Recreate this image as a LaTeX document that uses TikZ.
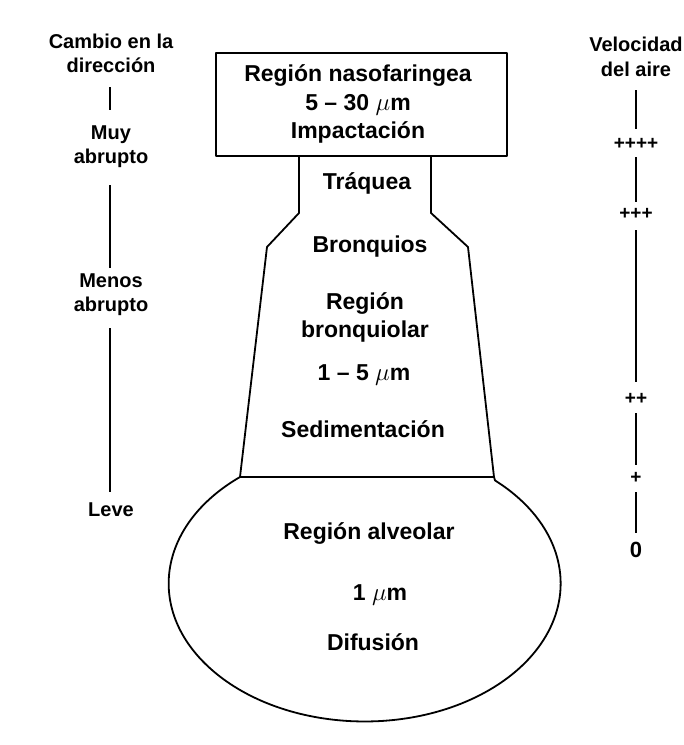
\documentclass[tikz,border=0pt]{standalone}
\usepackage{fontspec}
\setmainfont{Liberation Sans}
\begin{document}
\begin{tikzpicture}[x=1pt,y=1pt,line join=round,
  main/.style={font=\bfseries\fontsize{23}{28.5}\selectfont, align=center, inner sep=0pt},
  side/.style={font=\bfseries\fontsize{20}{24.5}\selectfont, align=center, inner sep=0pt},
  plus/.style={font=\bfseries\fontsize{19}{22}\selectfont, inner sep=0pt},
  outline/.style={line width=1.8pt},
  rule/.style={line width=2pt}]
\useasboundingbox (0,0) rectangle (684,-745);

% ---------- left column ----------
\node[side] (cambio) at (111,-53.5) {Cambio en la\\dirección};
\node[side] (muy) at (111,-146.5) {Muy\\abrupto};
\node[side] (menos) at (111,-294.5) {Menos\\abrupto};
\node[side] (leve) at (111,-510) {Leve};
\coordinate (la1) at (110,-87);  \coordinate (lb1) at (110,-110);
\coordinate (la2) at (110,-185); \coordinate (lb2) at (110,-268);
\coordinate (la3) at (110,-328); \coordinate (lb3) at (110,-492);
\draw[rule] (la1) -- (lb1);
\draw[rule] (la2) -- (lb2);
\draw[rule] (la3) -- (lb3);

% ---------- right column ----------
\node[side] (vel) at (636,-57) {Velocidad\\del aire};
\node[plus] (p4) at (636,-144) {++++};
\node[plus] (p3) at (636,-214) {+++};
\node[plus] (p2) at (636,-399) {++};
\node[plus] (p1) at (636,-478) {+};
\node[side,font=\bfseries\fontsize{22}{24}\selectfont] (zero) at (636,-550) {0};
\coordinate (ra1) at (636,-90);  \coordinate (rb1) at (636,-129);
\coordinate (ra2) at (636,-157); \coordinate (rb2) at (636,-202);
\coordinate (ra3) at (636,-230); \coordinate (rb3) at (636,-382);
\coordinate (ra4) at (636,-413); \coordinate (rb4) at (636,-465);
\coordinate (ra5) at (636,-492); \coordinate (rb5) at (636,-533);
\foreach \i in {1,...,5} {\draw[rule] (ra\i) -- (rb\i);}

% ---------- central figure ----------
\node[draw, outline, minimum width=291pt, minimum height=103pt, inner sep=0pt] (naso) at (361.5,-104.5) {};
\node[main] (nasotxt) at (358,-104) {Región nasofaringea\\5 – 30 $\mu$m\\Impactación};

\coordinate (tl) at (299,-156);
\coordinate (tl2) at (299,-213);
\coordinate (bl1) at (267,-247);
\coordinate (bl) at (240,-477);
\coordinate (tr) at (431,-156);
\coordinate (tr2) at (431,-213);
\coordinate (br1) at (468,-247);
\coordinate (br) at (494,-477);

\draw[outline] (tl) -- (tl2) -- (bl1) -- (bl)
  arc[start angle=129.5, end angle=408.3, x radius=196pt, y radius=138pt]
  -- (br) -- (br1) -- (tr2) -- (tr);
\draw[outline] (bl) -- (br);

\node[main] (traquea) at (367,-183) {Tráquea};
\node[main] (bronquios) at (370,-247) {Bronquios};
\node[main] (bronquiolar) at (365,-317.5) {Región\\bronquiolar};
\node[main] (size2) at (364,-375) {1 – 5 $\mu$m};
\node[main] (sedim) at (363,-429) {Sedimentación};
\node[main] (alveolar) at (369,-533) {Región alveolar};
\node[main] (size3) at (380,-595) {1 $\mu$m};
\node[main] (difusion) at (373,-642) {Difusión};
\end{tikzpicture}
\end{document}
